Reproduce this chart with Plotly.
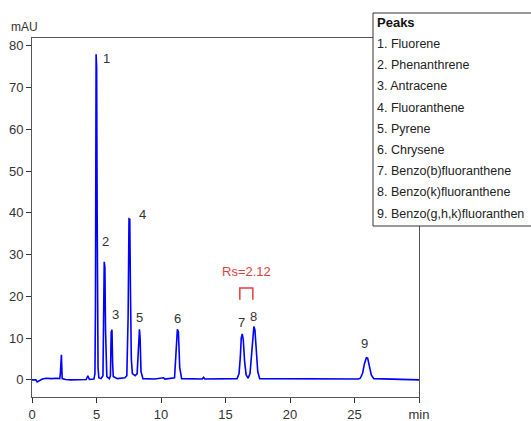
import plotly.graph_objects as go

# Chromatogram trace (time in min, signal in mAU)
time_min = [0, 0.3, 0.4, 0.55, 0.8, 1.1, 1.5, 1.9, 2.15,
            2.2, 2.24, 2.28, 2.31, 2.34, 2.6, 3.0, 4.2, 4.33, 4.45, 4.8,
            4.88, 4.92, 4.97, 5.01, 5.05, 5.08, 5.12, 5.18, 5.35,
            5.5, 5.55, 5.6, 5.65, 5.7, 5.74, 5.8, 6.0,
            6.08, 6.14, 6.2, 6.25, 6.3, 6.6, 7.2,
            7.35, 7.45, 7.52, 7.58, 7.63, 7.7, 7.78, 8.0,
            8.15, 8.28, 8.33, 8.38, 8.45, 8.6, 9.5, 10.2, 10.3,
            11.05, 11.18, 11.27, 11.35, 11.45, 11.6, 13.2, 13.3, 13.4,
            15.9, 16.05, 16.15, 16.22, 16.3, 16.38, 16.48, 16.6, 16.75,
            16.9, 17.02, 17.12, 17.2, 17.28, 17.38, 17.5, 17.65, 25.3,
            25.45, 25.62, 25.78, 25.92, 26.02, 26.15, 26.3, 26.5, 30]
signal_mau = [0, 0.0, -0.5, -0.2, 0.2, 0.4, 0.3, 0.4, 0.3,
              1.5, 5.8, 6.0, 3.0, 0.3, 0.1, 0.0, 0.1, 1.0, 0.1, 0.2,
              1.5, 17.5, 78.0, 75.0, 40.0, 12.0, 3.0, 0.5, 0.3,
              1.0, 10.0, 28.3, 27.0, 12.0, 4.0, 0.8, 0.3,
              1.0, 11.5, 12.0, 4.0, 0.8, 0.3, 0.5,
              1.0, 15.0, 38.6, 38.5, 22.0, 5.0, 1.5, 1.0,
              1.5, 10.0, 12.1, 10.0, 2.0, 0.3, 0.2, 0.5, 0.2,
              0.5, 8.0, 12.1, 11.5, 3.0, 0.3, 0.2, 0.6, 0.2,
              0.3, 1.5, 5.5, 10.0, 11.0, 9.5, 4.5, 1.2, 0.4,
              1.5, 6.0, 11.5, 12.8, 12.0, 7.0, 2.0, 0.3, 0.2,
              0.4, 1.5, 4.0, 5.3, 5.2, 3.5, 1.2, 0.3, 0.0]

peak_ids = ["1", "2", "3", "4", "5", "6", "7", "8", "9"]
peak_label_x = [5.75, 5.67, 6.44, 8.56, 8.37, 11.28, 16.24, 17.19, 25.78]
peak_label_y = [77.0, 33.2, 15.6, 39.6, 15.0, 14.6, 13.7, 15.3, 8.6]

peak_names = ["Fluorene", "Phenanthrene", "Antracene", "Fluoranthene", "Pyrene",
              "Chrysene", "Benzo(b)fluoranthene", "Benzo(k)fluoranthene",
              "Benzo(g,h,k)fluoranthen"]

x_tick_vals = [0, 5, 10, 15, 20, 25, 30]
x_tick_text = ["0", "5", "10", "15", "20", "25", "min"]
y_tick_vals = [0, 10, 20, 30, 40, 50, 60, 70, 80]

rs_text = "Rs=2.12"
rs_x = [16.11, 17.12]
rs_y = [19.2, 22.0]

FONT = "Liberation Sans, Arial, sans-serif"
W, H = 531, 421
L, R, T, B = 32, 112, 38, 24
pw, ph = W - L - R, H - T - B


def px(xp):
    return (xp - L) / pw


def py(yp):
    return (H - B - yp) / ph


fig = go.Figure()
fig.add_trace(go.Scatter(x=time_min, y=signal_mau, mode="lines",
                         line=dict(color="#0000ff", width=1.6),
                         hoverinfo="skip", showlegend=False))

annotations = []
for pid, ax_, ay_ in zip(peak_ids, peak_label_x, peak_label_y):
    annotations.append(dict(x=ax_, y=ay_, text=pid, showarrow=False,
                            font=dict(family=FONT, size=13, color="#333333"),
                            xanchor="center", yanchor="middle"))
annotations.append(dict(x=(rs_x[0] + rs_x[1]) / 2, y=25.9, text=rs_text, showarrow=False,
                        font=dict(family=FONT, size=13, color="#e04040"),
                        xanchor="center", yanchor="middle"))
annotations.append(dict(xref="paper", yref="paper", x=px(24), y=py(27), text="mAU",
                        showarrow=False, font=dict(family=FONT, size=12, color="#333333"),
                        xanchor="center", yanchor="middle"))

# legend box text
annotations.append(dict(xref="paper", yref="paper", x=px(375), y=py(22), text="<b>Peaks</b>",
                        showarrow=False, font=dict(family=FONT, size=13, color="#111111"),
                        xanchor="left", yanchor="middle"))
for i, name in enumerate(peak_names):
    annotations.append(dict(xref="paper", yref="paper", x=px(375), y=py(44 + i * 21.2),
                            text=f"{i + 1}. {name}", showarrow=False,
                            font=dict(family=FONT, size=12.5, color="#222222"),
                            xanchor="left", yanchor="middle"))

shapes = [
    dict(type="path", xref="x", yref="y",
         path=f"M {rs_x[0]} {rs_y[0]} L {rs_x[0]} {rs_y[1]} L {rs_x[1]} {rs_y[1]} L {rs_x[1]} {rs_y[0]}",
         line=dict(color="#e04040", width=1.5)),
    dict(type="rect", xref="paper", yref="paper", x0=px(373), x1=px(545), y0=py(226), y1=py(13),
         line=dict(color="#333333", width=1), fillcolor="white", layer="above"),
]

fig.update_layout(
    width=W, height=H,
    margin=dict(l=L, r=R, t=T, b=B, pad=0, autoexpand=False),
    paper_bgcolor="white", plot_bgcolor="white",
    annotations=annotations, shapes=shapes,
    xaxis=dict(range=[0, 30], tickvals=x_tick_vals, ticktext=x_tick_text,
               automargin=False,
               showgrid=False, zeroline=False, showline=True, mirror=True,
               linecolor="#555555", linewidth=1, ticks="outside", ticklen=5,
               tickcolor="#333333",
               tickfont=dict(family=FONT, size=13, color="#333333")),
    yaxis=dict(range=[-4.1, 81.9], tickvals=y_tick_vals,
               automargin=False,
               showgrid=False, zeroline=False, showline=True, mirror=True,
               linecolor="#555555", linewidth=1, ticks="outside", ticklen=5,
               tickcolor="#333333",
               tickfont=dict(family=FONT, size=13, color="#333333")),
)

fig.write_html("out.html", config={"displayModeBar": False},
               post_script="document.body.style.margin='0';document.body.style.overflow='hidden';")
